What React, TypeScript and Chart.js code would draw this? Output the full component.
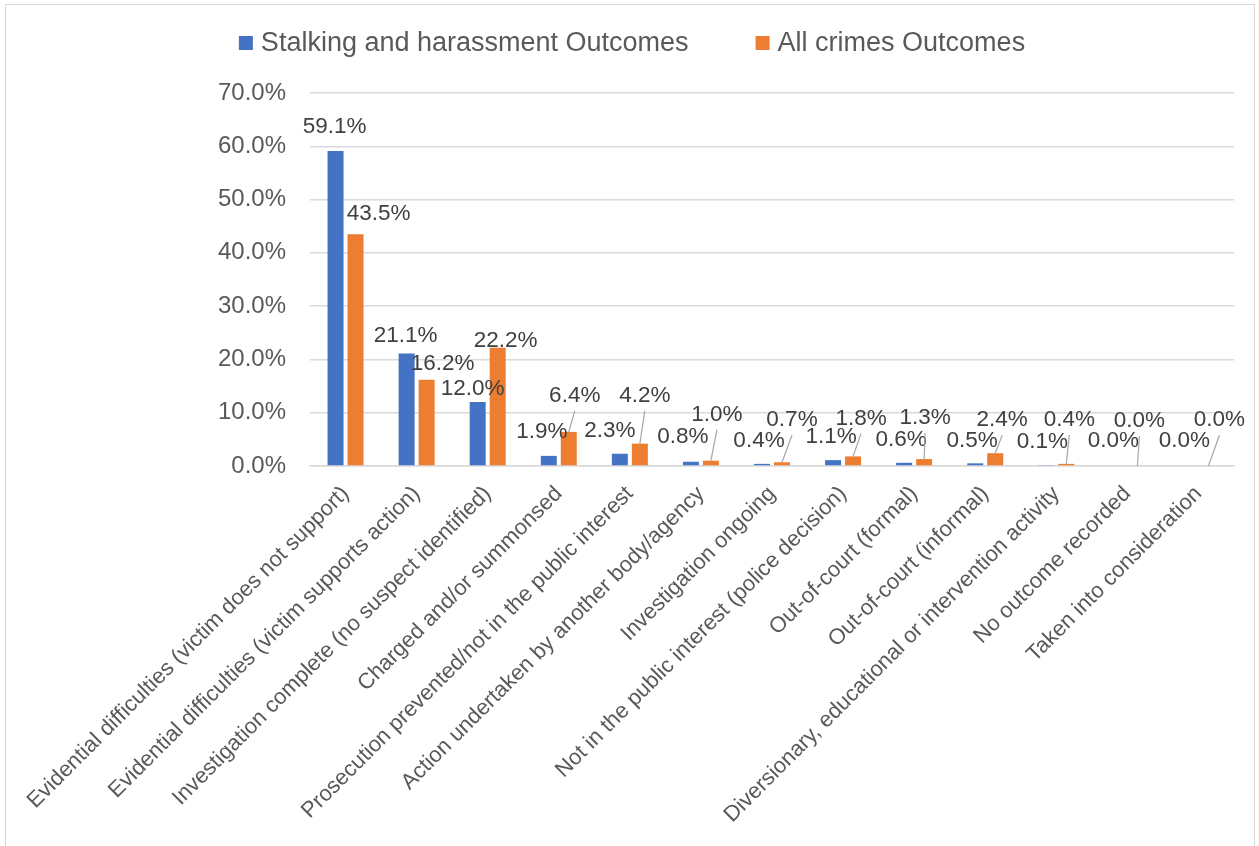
import React, { useEffect, useRef } from "react";
import { Chart, registerables } from "chart.js";

Chart.register(...registerables);

// ---------------- data ----------------
const categories: string[] = [
  "Evidential difficulties (victim does not support)",
  "Evidential difficulties (victim supports action)",
  "Investigation complete (no suspect identified)",
  "Charged and/or summonsed",
  "Prosecution prevented/not in the public interest",
  "Action undertaken by another body/agency",
  "Investigation ongoing",
  "Not in the public interest (police decision)",
  "Out-of-court (formal)",
  "Out-of-court (informal)",
  "Diversionary, educational or intervention activity",
  "No outcome recorded",
  "Taken into consideration",
];

const stalkingOutcomes: number[] = [59.1, 21.1, 12.0, 1.9, 2.3, 0.8, 0.4, 1.1, 0.6, 0.5, 0.1, 0.0, 0.0];
const allCrimesOutcomes: number[] = [43.5, 16.2, 22.2, 6.4, 4.2, 1.0, 0.7, 1.8, 1.3, 2.4, 0.4, 0.0, 0.0];

const seriesNames: string[] = ["Stalking and harassment Outcomes", "All crimes Outcomes"];

const yMin = 0;
const yMax = 70;
const yStep = 10;

// ------------- label layout (style only) -------------
// nudges of the data labels relative to the top centre of their bar, in px
const stalkingLabelNudge: number[][] = [
  [-1, -24], [-1, -18], [-5, -13], [-7, -24], [-10, -23], [-8, -25], [-3, -23],
  [-2, -23], [-3, -23], [-3, -23], [-4, -24], [-4, -25], [-4, -25],
];
const allCrimesLabelNudge: number[][] = [
  [23, -20], [16, -16], [8, -7], [6, -36], [5, -48], [6, -46], [10, -42],
  [8, -38], [1, -41], [7, -33], [3, -44], [2, -45], [11, -46],
];
const allCrimesLeader: boolean[] = [false, false, false, true, true, true, true, true, true, true, true, true, true];

const FONT = '"Liberation Sans", Arial, Helvetica, sans-serif';
const BLUE = "#4472C4";
const ORANGE = "#ED7D31";
const AXIS_TEXT = "#595959";
const LABEL_TEXT = "#404040";
const GRID = "#D9D9D9";

const dataLabelPlugin = {
  id: "excelDataLabels",
  afterDatasetsDraw(chart: any) {
    const ctx = chart.ctx as CanvasRenderingContext2D;
    ctx.save();
    ctx.font = `22.5px ${FONT}`;
    ctx.textAlign = "center";
    ctx.textBaseline = "middle";
    chart.data.datasets.forEach((ds: any, di: number) => {
      const meta = chart.getDatasetMeta(di);
      const nudges = di === 0 ? stalkingLabelNudge : allCrimesLabelNudge;
      meta.data.forEach((bar: any, i: number) => {
        const v = ds.data[i] as number;
        const [dx, dy] = nudges[i];
        const lx = bar.x + dx;
        const ly = bar.y + dy;
        if (di === 1 && allCrimesLeader[i]) {
          ctx.strokeStyle = "#A6A6A6";
          ctx.lineWidth = 1.2;
          ctx.beginPath();
          ctx.moveTo(lx, ly + 15);
          ctx.lineTo(bar.x, bar.y);
          ctx.stroke();
        }
        ctx.fillStyle = LABEL_TEXT;
        ctx.fillText(v.toFixed(1) + "%", lx, ly);
      });
    });
    ctx.restore();
  },
};

const legendPlugin = {
  id: "excelLegend",
  afterDraw(chart: any) {
    const ctx = chart.ctx as CanvasRenderingContext2D;
    ctx.save();
    ctx.font = `27px ${FONT}`;
    ctx.textBaseline = "middle";
    ctx.textAlign = "left";
    const box = 14;
    const gapText = 8;
    const gapItem = 67;
    const datasets = chart.data.datasets;
    const widths = datasets.map((d: any) => box + gapText + ctx.measureText(d.label).width);
    const total = widths.reduce((a: number, b: number) => a + b, 0) + gapItem * (widths.length - 1);
    let x = 632 - total / 2;
    const cy = 43;
    datasets.forEach((d: any, i: number) => {
      ctx.fillStyle = d.backgroundColor;
      ctx.fillRect(x, cy - box / 2, box, box);
      ctx.fillStyle = AXIS_TEXT;
      ctx.fillText(d.label, x + box + gapText, cy + 1);
      x += widths[i] + gapItem;
    });
    ctx.restore();
  },
};

function BarChart() {
  const ref = useRef<HTMLCanvasElement | null>(null);
  useEffect(() => {
    if (!ref.current) return;
    Chart.defaults.font.family = FONT;
    const chart = new Chart(ref.current, {
      type: "bar",
      data: {
        labels: categories,
        datasets: [
          {
            label: seriesNames[0],
            data: stalkingOutcomes,
            backgroundColor: BLUE,
            borderWidth: 0,
            barPercentage: 0.8,
            categoryPercentage: 0.5625,
          },
          {
            label: seriesNames[1],
            data: allCrimesOutcomes,
            backgroundColor: ORANGE,
            borderWidth: 0,
            barPercentage: 0.8,
            categoryPercentage: 0.5625,
          },
        ],
      },
      options: {
        animation: false,
        responsive: false,
        maintainAspectRatio: false,
        layout: { padding: { left: 218, right: 25, top: 93, bottom: 0 } },
        plugins: {
          legend: { display: false },
          tooltip: { enabled: false },
          title: { display: false },
        },
        scales: {
          x: {
            grid: { display: false, drawTicks: false },
            border: { display: true, color: GRID, width: 1.5 },
            ticks: {
              autoSkip: false,
              minRotation: 45,
              maxRotation: 45,
              padding: 15,
              color: AXIS_TEXT,
              font: { family: FONT, size: 22 },
            },
            afterFit: (s: any) => {
              s.height = 380;
            },
          },
          y: {
            min: yMin,
            max: yMax,
            ticks: {
              stepSize: yStep,
              padding: 24,
              color: AXIS_TEXT,
              font: { family: FONT, size: 24 },
              callback: (v: any) => Number(v).toFixed(1) + "%",
            },
            grid: { color: GRID, lineWidth: 1.5, drawTicks: false },
            border: { display: false },
            afterFit: (s: any) => {
              s.width = 92;
            },
          },
        },
      },
      plugins: [dataLabelPlugin, legendPlugin],
    });
    return () => chart.destroy();
  }, []);
  return <canvas ref={ref} width={1259} height={846} style={{ display: "block" }} />;
}

export default function App() {
  return (
    <div
      style={{
        position: "fixed",
        left: 0,
        top: 0,
        width: 1259,
        height: 846,
        background: "#ffffff",
        overflow: "hidden",
      }}
    >
      <div
        style={{
          position: "absolute",
          left: 5,
          top: 4,
          width: 1250,
          height: 900,
          border: "1.5px solid #D9D9D9",
          boxSizing: "border-box",
        }}
      />
      <div style={{ position: "absolute", left: 0, top: 0 }}>
        <BarChart />
      </div>
    </div>
  );
}
